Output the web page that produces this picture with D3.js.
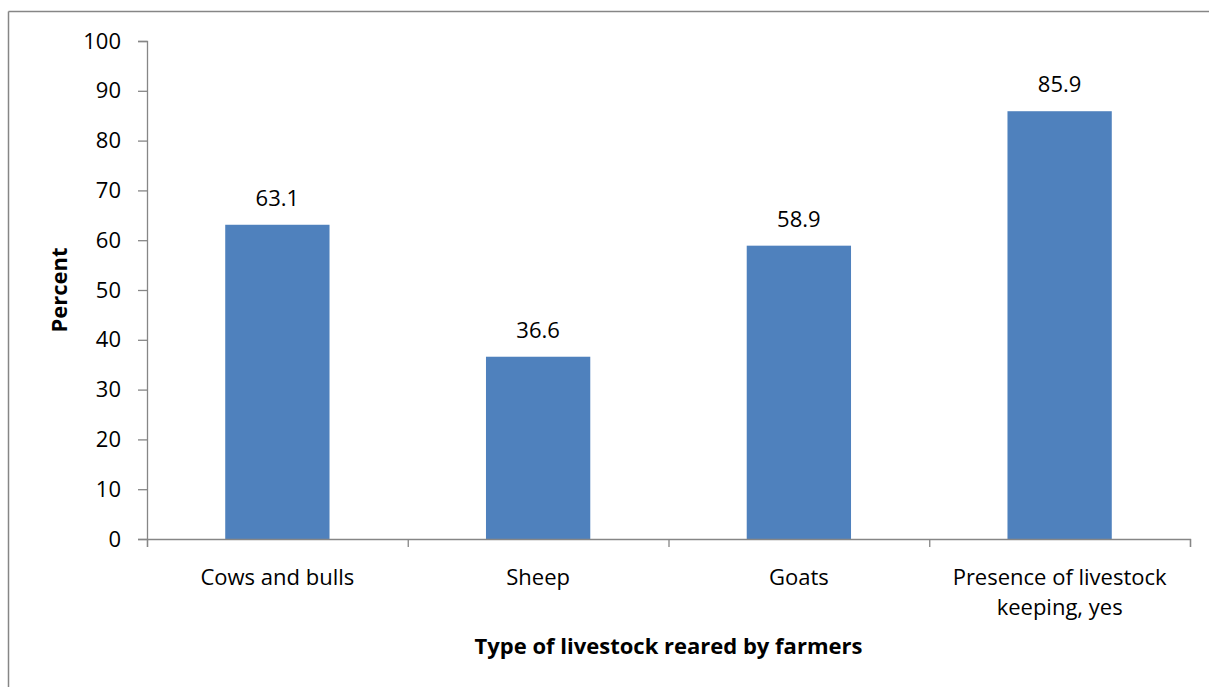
<!DOCTYPE html>
<html>
<head>
<meta charset="utf-8">
<script src="https://cdn.jsdelivr.net/npm/d3@7"></script>
<style>
  body { margin: 0; background: #fff; }
  svg text { font-family: "Open Sans", "Noto Sans", sans-serif; fill: #000; }
</style>
</head>
<body>
<svg id="chart"></svg>
<script>
const width = 1209
const height = 687

// data
const categories = [["Cows and bulls"], ["Sheep"], ["Goats"], ["Presence of livestock", "keeping, yes"]]
const values = [63.1, 36.6, 58.9, 85.9]
const yTicks = [0, 10, 20, 30, 40, 50, 60, 70, 80, 90, 100]

const margin = { top: 41, left: 147, right: 19, bottom: 148 }
const fontSize = "22px"

const svg = d3.select("#chart")
            .attr("width", width)
            .attr("height", height);

// outer frame (only top and left edges show)
svg.append("line").attr("x1", 8.5).attr("x2", width).attr("y1", 11.5).attr("y2", 11.5)
   .attr("stroke", "#868686").attr("stroke-width", 1.5)
svg.append("line").attr("x1", 8.5).attr("x2", 8.5).attr("y1", 11.5).attr("y2", height)
   .attr("stroke", "#868686").attr("stroke-width", 1.5)

const x = d3.scaleBand()
            .domain(d3.range(values.length))
            .range([margin.left, width - margin.right])
            .paddingInner(0.6)
            .paddingOuter(0.3)

const y = d3.scaleLinear()
            .domain([0, 100])
            .range([height - margin.bottom, margin.top])

// y axis
const yAxis = svg.append("g")
   .attr("transform", `translate(${margin.left},0)`)
   .call(d3.axisLeft(y).tickValues(yTicks).tickSize(9).tickPadding(17))
yAxis.select(".domain").attr("stroke", "#868686").attr("stroke-width", 1.3)
yAxis.selectAll(".tick line").attr("stroke", "#868686").attr("stroke-width", 1.3)
yAxis.selectAll(".tick text").style("font-size", fontSize)

// bars
svg.selectAll("rect.bar")
   .data(values)
   .enter()
   .append("rect")
   .attr("class", "bar")
   .attr("x", (d, i) => x(i))
   .attr("width", x.bandwidth())
   .attr("y", d => y(d))
   .attr("height", d => y(0) - y(d))
   .attr("fill", "#4f81bd")

// value labels
svg.selectAll("text.val")
   .data(values)
   .enter()
   .append("text")
   .attr("class", "val")
   .attr("x", (d, i) => x(i) + x.bandwidth() / 2)
   .attr("y", d => y(d) - 19)
   .attr("text-anchor", "middle")
   .style("font-size", fontSize)
   .text(d => d.toFixed(1))

// x axis line with ticks at the category boundaries
const xb = d3.scaleLinear().domain([0, values.length]).range([margin.left, width - margin.right])
const xAxis = svg.append("g")
   .attr("transform", `translate(0,${y(0)})`)
   .call(d3.axisBottom(xb).tickValues(d3.range(values.length + 1)).tickSize(8).tickFormat(""))
xAxis.select(".domain").attr("stroke", "#868686").attr("stroke-width", 1.3)
xAxis.selectAll(".tick line").attr("stroke", "#868686").attr("stroke-width", 1.3)

// category labels
const catLabels = svg.selectAll("text.cat")
   .data(categories)
   .enter()
   .append("text")
   .attr("class", "cat")
   .attr("text-anchor", "middle")
   .style("font-size", fontSize)
   .attr("transform", (d, i) => `translate(${x(i) + x.bandwidth() / 2},${y(0) + 46})`)
catLabels.selectAll("tspan")
   .data(d => d)
   .enter()
   .append("tspan")
   .attr("x", 0)
   .attr("dy", (d, i) => i === 0 ? 0 : 30)
   .text(d => d)

// axis titles
svg.append("text")
   .attr("x", (margin.left + width - margin.right) / 2)
   .attr("y", 654)
   .attr("text-anchor", "middle")
   .style("font-size", fontSize)
   .style("font-weight", "bold")
   .text("Type of livestock reared by farmers")

svg.append("text")
   .attr("transform", `translate(67,${(y(0) + y(100)) / 2}) rotate(-90)`)
   .attr("text-anchor", "middle")
   .style("font-size", fontSize)
   .style("font-weight", "bold")
   .text("Percent")
</script>
</body>
</html>
